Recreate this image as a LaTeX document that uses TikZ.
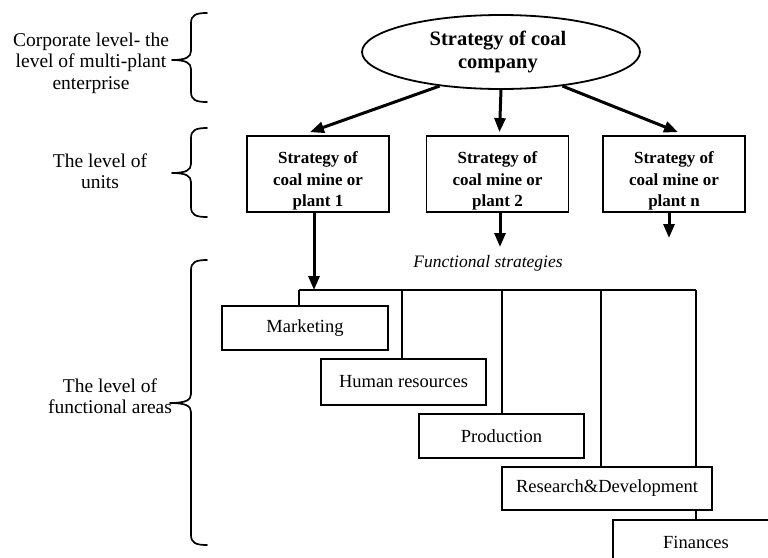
\documentclass[tikz,border=0pt]{standalone}
\usepackage{fontspec}
\setmainfont{Liberation Serif}
\usetikzlibrary{arrows.meta,calc,shapes.geometric}
\begin{document}
\begin{tikzpicture}[x=1pt,y=-1pt,
  lbl/.style={align=center,font=\fontsize{19.5}{21.5}\selectfont,inner sep=0pt},
  fbox/.style={draw,line width=1.8pt,fill=white,minimum height=44pt,inner sep=0pt,font=\fontsize{18.5}{20}\selectfont},
  ubox/.style={draw,line width=1.8pt,minimum width=142pt,minimum height=76pt,inner sep=0pt},
  utext/.style={align=center,font=\fontsize{17}{21.5}\selectfont\bfseries,inner sep=0pt},
  arr/.style={line width=3pt,-{Triangle[length=14pt,width=11pt]}},
  conn/.style={line width=1.6pt},
  bracepath/.style={line width=1.7pt,line cap=round,line join=round}]
\useasboundingbox (0,0) rectangle (768,557);
\clip (0,0) rectangle (768,557);

% left labels
\node[lbl] (l1) at (91,63) {Corporate level- the\\level of multi-plant\\enterprise};
\node[lbl] (l2) at (100,171) {The level of\\units};
\node[lbl] (l3) at (110,396) {The level of\\functional areas};

% braces
\draw[bracepath] (207,13) .. controls (196,13) and (191,15) .. (191,23) -- (191,51)
  .. controls (191,57) and (186,60) .. (172,60) .. controls (186,60) and (191,63) .. (191,69)
  -- (191,92) .. controls (191,100) and (196,102) .. (207,102);
\draw[bracepath] (207,128) .. controls (196,128) and (191,130) .. (191,138) -- (191,164)
  .. controls (191,170) and (186,173) .. (172,173) .. controls (186,173) and (191,176) .. (191,182)
  -- (191,207) .. controls (191,215) and (196,217) .. (207,217);
\draw[bracepath] (207,260) .. controls (196,260) and (191,262) .. (191,270) -- (191,394)
  .. controls (191,400) and (186,403) .. (170,403) .. controls (186,403) and (191,406) .. (191,412)
  -- (191,535) .. controls (191,543) and (196,545) .. (207,545);

% corporate ellipse
\node[draw,ellipse,line width=1.8pt,minimum width=278pt,minimum height=74pt,inner sep=0pt] (e) at (501,52) {};
\node[align=center,font=\fontsize{20.5}{23}\selectfont\bfseries,inner sep=0pt] (et) at (498,52) {Strategy of coal\\company};

% unit boxes
\node[ubox] (u1) at (318,174) {};
\node[ubox] (u2) at (497.5,174) {};
\node[ubox] (u3) at (674,174) {};
\begin{scope}
\clip (u1.south west) rectangle (u1.north east);
\node[utext] (t1) at (318,181) {Strategy of\\coal mine or\\plant 1};
\end{scope}
\begin{scope}
\clip (u2.south west) rectangle (u2.north east);
\node[utext] (t2) at (497.5,181) {Strategy of\\coal mine or\\plant 2};
\end{scope}
\begin{scope}
\clip (u3.south west) rectangle (u3.north east);
\node[utext] (t3) at (674,181) {Strategy of\\coal mine or\\plant n};
\end{scope}

% arrows from ellipse
\draw[arr] (e.209) -- ([xshift=-8pt,yshift=3pt]u1.north);
\draw[arr] (e.south) -- ([xshift=2pt,yshift=3pt]u2.north);
\draw[arr] (e.331) -- ([xshift=4pt,yshift=3pt]u3.north);

% functional strategies
\node[font=\fontsize{17.5}{20}\selectfont\itshape,inner sep=0pt] (fs) at (488,263) {Functional strategies};

% connector bar
\coordinate (hl) at (299,290);
\coordinate (v2) at (402,290);
\coordinate (v3) at (502,290);
\coordinate (v4) at (601,290);
\coordinate (hr) at (696,290);
\coordinate (f2) at (500,247);
\coordinate (f3) at (669,238);

\draw[arr] ([xshift=-4pt]u1.south) -- ([xshift=-4pt]u1.south |- hl);
\draw[arr] ([xshift=2.5pt]u2.south) -- ([xshift=2.5pt]u2.south |- f2);
\draw[arr] ([xshift=-5pt]u3.south) -- ([xshift=-5pt]u3.south |- f3);

% functional boxes positions
\coordinate (pmk) at (305,328);
\coordinate (phr) at (403.5,382);
\coordinate (ppr) at (501.5,436);
\coordinate (prd) at (607,488.5);
\coordinate (pfi) at (696,542.5);

\draw[conn] (hl) -- (hr);
\draw[conn] (hl) -- (hl |- 0,306);
\draw[conn] (v2) -- (v2 |- 0,359);
\draw[conn] (v3) -- (v3 |- 0,414);
\draw[conn] (v4) -- (v4 |- 0,467);
\draw[conn] (hr) -- (hr |- 0,520);

\node[fbox,minimum width=166pt] (mk) at (pmk) {Marketing};
\node[fbox,minimum width=165pt,minimum height=46pt] (hrs) at (phr) {Human resources};
\node[fbox,minimum width=165pt] (pr) at (ppr) {Production};
\node[fbox,minimum width=210pt,minimum height=43pt] (rd) at (prd) {Research\&Development};
\node[fbox,minimum width=166pt,minimum height=45pt] (fi) at (pfi) {Finances};
\end{tikzpicture}
\end{document}
